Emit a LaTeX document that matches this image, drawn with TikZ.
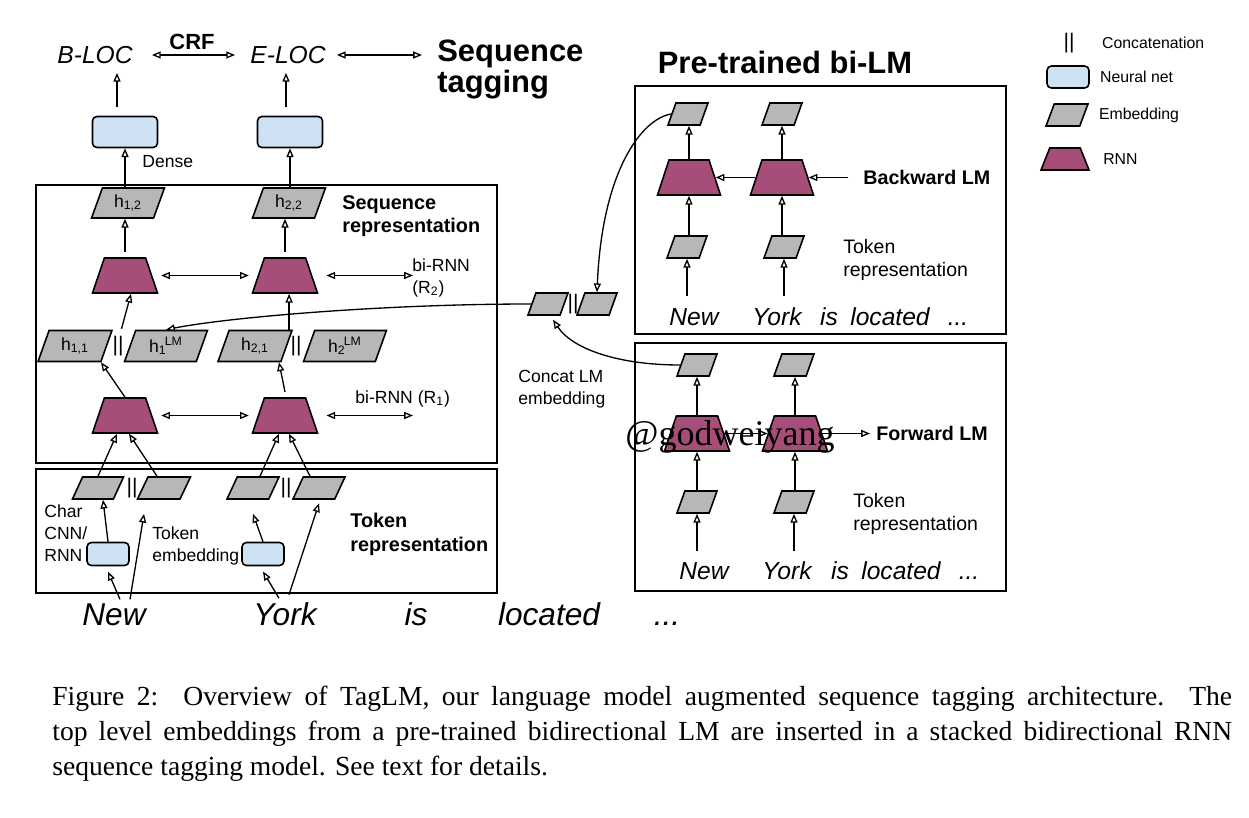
\documentclass[tikz,border=0pt]{standalone}
\usepackage{fontspec}
\setmainfont{Liberation Sans}
\newfontfamily\capfont{Liberation Serif}
\usetikzlibrary{arrows.meta,positioning,shapes.geometric}
\definecolor{rnnpurple}{HTML}{A64D79}
\definecolor{netblue}{HTML}{CFE2F3}
\definecolor{embgray}{HTML}{B7B7B7}
\tikzset{
  panel/.style={draw, line width=0.9pt},
  embbox/.style={
    trapezium,
    trapezium left angle=72,
    trapezium right angle=108,
    trapezium stretches=true,
    draw,
    line width=0.9pt,
    fill=embgray,
    inner sep=1pt,
    font=\fontsize{10}{12}\selectfont
  },
  rnnbox/.style={
    trapezium,
    trapezium left angle=74,
    trapezium right angle=74,
    trapezium stretches=true,
    draw,
    line width=0.9pt,
    fill=rnnpurple,
    minimum width=1.3cm,
    minimum height=0.7cm
  },
  netbox/.style={
    rectangle,
    rounded corners=2.5pt,
    draw,
    line width=0.9pt,
    fill=netblue
  },
  catbar/.style={inner sep=0pt, font=\fontsize{12}{12}\selectfont},
  arrow/.style={-{Triangle[open,length=5pt,width=4pt]}, line width=0.75pt},
  biarrow/.style={{Triangle[open,length=5pt,width=4pt]}-{Triangle[open,length=5pt,width=4pt]}, line width=0.75pt},
  lbl/.style={font=\fontsize{10}{12.5}\selectfont, align=left, inner sep=0pt},
  boldlbl/.style={font=\bfseries\fontsize{11.3}{13.5}\selectfont, align=left, inner sep=0pt},
  lmlbl/.style={font=\fontsize{11.1}{13.1}\selectfont, align=left, inner sep=0pt},
  lgd/.style={font=\fontsize{9}{11}\selectfont, inner sep=0pt},
  tag/.style={font=\itshape\fontsize{14}{14}\selectfont, inner sep=0pt},
  title/.style={font=\bfseries\fontsize{17.6}{17.6}\selectfont, align=left, inner sep=0pt},
  word/.style={font=\itshape\fontsize{18}{18}\selectfont, inner sep=0pt, anchor=base},
  lmword/.style={font=\itshape\fontsize{14}{14}\selectfont, inner sep=0pt, anchor=base}
}

\begin{document}
\begin{tikzpicture}[x=0.02cm, y=-0.02cm]
\useasboundingbox (0,0) rectangle (1249,818);

% frames
\draw[panel] (36,185) rectangle (497,463);
\draw[panel] (36,469) rectangle (497,593);
\draw[panel] (635,86) rectangle (1006,334);
\draw[panel] (635,343) rectangle (1006,591);

% tags and titles
\node[tag] (bloc) at (95,55) {B-LOC};
\node[tag] (eloc) at (288,55) {E-LOC};
\node[font=\bfseries\fontsize{12.5}{12.5}\selectfont, inner sep=0pt] (crf) at (192,42) {CRF};
\node[title, anchor=north west] (seqtag) at (437,40) {Sequence\\tagging};
\node[title] (bilm) at (785,62) {Pre-trained bi-LM};
\draw[biarrow] ([xshift=0.38cm]bloc.east) -- ([xshift=-0.3cm]eloc.west);
\draw[biarrow] ([xshift=0.22cm]eloc.east) -- ([xshift=-0.3cm]eloc.east -| seqtag.west);

% dense layer
\node[netbox, minimum width=1.3cm, minimum height=0.62cm] (dense1) at (125,132) {};
\node[netbox, minimum width=1.3cm, minimum height=0.62cm] (dense2) at (290,132) {};
\node[lbl, anchor=west] (densetxt) at (142,162) {Dense};
\draw[arrow] ([xshift=-0.16cm,yshift=5pt]dense1.north) -- ([xshift=-0.16cm,yshift=-5pt]dense1.north |- bloc.south);
\draw[arrow] ([xshift=-0.08cm,yshift=5pt]dense2.north) -- ([xshift=-0.08cm,yshift=-5pt]dense2.north |- eloc.south);

% sequence representation
\node[boldlbl, anchor=north west] (seqtxt) at (342,195) {Sequence\\representation};
\node[embbox, minimum width=1.46cm, minimum height=0.6cm] (h12) at (128,203) {h\textsubscript{1,2}};
\node[embbox, minimum width=1.46cm, minimum height=0.6cm] (h22) at (289,203) {h\textsubscript{2,2}};
\node[rnnbox] (r2a) at (125,275.5) {};
\node[rnnbox] (r2b) at (285,275.5) {};
\coordinate (r2end) at (413,275.5);
\node[lbl, anchor=north west] (r2txt) at (412,258) {bi-RNN\\(R\textsubscript{2})};
\node[embbox, minimum width=1.48cm, minimum height=0.62cm] (h11) at (75,346) {h\textsubscript{1,1}};
\node[catbar] (cat1) at (118,346) {\textbar\textbar};
\node[embbox, minimum width=1.66cm, minimum height=0.62cm] (h1lm) at (166,346) {h\textsubscript{1}\kern-0.1em\textsuperscript{LM}};
\node[embbox, minimum width=1.48cm, minimum height=0.62cm] (h21) at (255,346) {h\textsubscript{2,1}};
\node[catbar] (cat2) at (296,346) {\textbar\textbar};
\node[embbox, minimum width=1.66cm, minimum height=0.62cm] (h2lm) at (345,346) {h\textsubscript{2}\kern-0.1em\textsuperscript{LM}};
\node[rnnbox] (r1a) at (125,415.5) {};
\node[rnnbox] (r1b) at (285,415.5) {};
\coordinate (r1end) at (413,415.5);
\node[lbl, anchor=north west] (r1txt) at (355,390) {bi-RNN (R\textsubscript{1})};

\draw[arrow] (dense1.south |- h12.north) -- (dense1.south);
\draw[arrow] (dense2.south |- h22.north) -- (dense2.south);
\draw[arrow] ([yshift=3pt]r2a.north) -- (r2a.north |- h12.south);
\draw[arrow] ([yshift=3pt]r2b.north) -- (r2b.north |- h22.south);
\draw[biarrow] ([xshift=5pt]r2a.east) -- ([xshift=-5pt]r2b.west);
\draw[biarrow] ([xshift=8pt]r2b.east) -- (r2end);
\draw[arrow] ([xshift=2pt,yshift=4pt]cat1.north) -- ([xshift=0.12cm]r2a.south);
\draw[arrow] ([xshift=-0.08cm]h21.top right corner) -- ([xshift=-0.08cm]h21.top right corner |- r2b.south);
\draw[arrow] (r1a.north) -- ([xshift=0.52cm]h11.south);
\draw[arrow] ([yshift=3pt]r1b.north) -- ([xshift=0.48cm]h21.south);
\draw[biarrow] ([xshift=5pt]r1a.east) -- ([xshift=-5pt]r1b.west);
\draw[biarrow] ([xshift=8pt]r1b.east) -- (r1end);

% token representation
\node[boldlbl, anchor=north west] (toktxt) at (350,513) {Token\\representation};
\node[embbox, minimum width=1.02cm, minimum height=0.44cm] (char1) at (98,488) {};
\node[catbar] (tcat1) at (132,488) {\textbar\textbar};
\node[embbox, minimum width=1.06cm, minimum height=0.44cm] (tok1) at (164,488) {};
\node[embbox, minimum width=1.04cm, minimum height=0.44cm] (char2) at (253,488) {};
\node[catbar] (tcat2) at (286,488) {\textbar\textbar};
\node[embbox, minimum width=1.04cm, minimum height=0.44cm] (tok2) at (319,488) {};
\node[netbox, minimum width=0.84cm, minimum height=0.46cm] (cnn1) at (108,554) {};
\node[netbox, minimum width=0.84cm, minimum height=0.46cm] (cnn2) at (263,554) {};
\node[lbl, anchor=north west] (chartxt) at (44,504) {Char\\CNN/\\RNN};
\node[lbl, anchor=north west] (embtxt) at (152,526) {Token\\embedding};

\draw[arrow] (char1.north) -- ([xshift=-0.16cm]r1a.south);
\draw[arrow] ([xshift=-0.14cm]tok1.north) -- ([xshift=0.08cm]r1a.south);
\draw[arrow] ([xshift=0.14cm]char2.north) -- ([xshift=-0.12cm]r1b.south);
\draw[arrow] ([xshift=-0.18cm]tok2.north) -- ([xshift=0.08cm]r1b.south);
\draw[arrow] (cnn1.north) -- ([xshift=0.1cm]char1.south);
\draw[arrow] (cnn2.north) -- ([yshift=-8pt]char2.south);

% input words
\node[word] (new) at (114,625) {New};
\node[word] (york) at (285,625) {York};
\node[word] (is) at (416,625) {is};
\node[word] (located) at (549,625) {located};
\node[word] (dots) at (667,625) {...};
\draw[arrow] ([xshift=0.12cm,yshift=2pt]new.north) -- ([yshift=-3pt]cnn1.south);
\draw[arrow] ([xshift=0.32cm,yshift=2pt]new.north) -- ([shift={(-20,14)}]tok1.south);
\draw[arrow] ([xshift=-0.12cm,yshift=2pt]york.north) -- ([yshift=-3pt]cnn2.south);
\draw[arrow] ([xshift=0.08cm,yshift=4pt]york.north) -- ([yshift=-2pt]tok2.south);

% backward LM
\node[embbox, minimum width=0.8cm, minimum height=0.44cm] (bt1) at (688,114) {};
\node[embbox, minimum width=0.8cm, minimum height=0.44cm] (bt2) at (782,114) {};
\node[rnnbox, minimum width=1.26cm] (br1) at (689,177.5) {};
\node[rnnbox, minimum width=1.26cm] (br2) at (782,177.5) {};
\node[embbox, minimum width=0.8cm, minimum height=0.44cm] (bk1) at (687,247) {};
\node[embbox, minimum width=0.8cm, minimum height=0.44cm] (bk2) at (784,247) {};
\coordinate (bwin) at (848,177.5);
\node[font=\bfseries\fontsize{11.2}{13}\selectfont, inner sep=0pt, anchor=west] (bwtxt) at (863,177) {Backward LM};
\node[lmlbl, anchor=north west] (bwtok) at (843,239) {Token\\representation};
\node[lmword] (bnew) at (694,325) {New};
\node[lmword] (byork) at (777,325) {York};
\node[lmword] (bis) at (829,325) {is};
\node[lmword] (bloc2) at (890,325) {located};
\node[lmword] (bdots) at (958,325) {...};
\draw[arrow] (br1.north) -- (br1.north |- bt1.south);
\draw[arrow] (br2.north) -- (br2.north |- bt2.south);
\draw[arrow] (br1.south |- bk1.north) -- (br1.south);
\draw[arrow] (br2.south |- bk2.north) -- (br2.south);
\draw[arrow] ([yshift=-0.74cm]bk1.south) -- (bk1.south);
\draw[arrow] ([yshift=-0.74cm]bk2.south) -- (bk2.south);
\draw[arrow] (br2.west) -- (br1.east);
\draw[arrow] (bwin) -- (br2.east);

% forward LM
\node[embbox, minimum width=0.8cm, minimum height=0.44cm] (ft1) at (697,365) {};
\node[embbox, minimum width=0.8cm, minimum height=0.44cm] (ft2) at (794,365) {};
\node[rnnbox] (fr1) at (697,433.5) {};
\node[rnnbox] (fr2) at (795,433.5) {};
\node[embbox, minimum width=0.8cm, minimum height=0.44cm] (fk1) at (697,502) {};
\node[embbox, minimum width=0.8cm, minimum height=0.44cm] (fk2) at (794,502) {};
\coordinate (fwout) at (870,433.5);
\node[font=\bfseries\fontsize{11.2}{13}\selectfont, inner sep=0pt, anchor=west] (fwtxt) at (876,433) {Forward LM};
\node[lmlbl, anchor=north west] (fwtok) at (853,493) {Token\\representation};
\node[lmword] (fnew) at (704,579) {New};
\node[lmword] (fyork) at (787,579) {York};
\node[lmword] (fis) at (840,579) {is};
\node[lmword] (floc) at (901,579) {located};
\node[lmword] (fdots) at (969,579) {...};
\draw[arrow] (fr1.north) -- (fr1.north |- ft1.south);
\draw[arrow] (fr2.north) -- (fr2.north |- ft2.south);
\draw[arrow] (fr1.south |- fk1.north) -- (fr1.south);
\draw[arrow] (fr2.south |- fk2.north) -- (fr2.south);
\draw[arrow] ([yshift=-0.74cm]fk1.south) -- (fk1.south);
\draw[arrow] ([yshift=-0.74cm]fk2.south) -- (fk2.south);
\draw[arrow] (fr1.east) -- (fr2.west);
\draw[arrow] (fr2.east) -- (fwout);

% concatenated LM embedding
\node[embbox, minimum width=0.8cm, minimum height=0.44cm] (cl) at (548,304) {};
\node[catbar] (lmcat) at (573,304) {\textbar\textbar};
\node[embbox, minimum width=0.8cm, minimum height=0.44cm] (cr) at (597,304) {};
\node[lbl, anchor=north west] (cattxt) at (518,370) {Concat LM\\embedding};
\draw[arrow] (bt1.west) .. controls +(-30,5) and +(5,-120) .. (cr.north);
\draw[arrow] (ft1.west) .. controls +(-60,0) and +(20,30) .. ([shift={(5,4)}]cl.south);
\draw[arrow] (cl.west) .. controls +(-150,0) and +(60,-12) .. (h1lm.north);

% legend
\node[catbar] (legcat) at (1069,43) {\textbar\textbar};
\node[lgd, right=0.54cm of legcat] (legcattxt) {Concatenation};
\node[netbox, minimum width=0.84cm, minimum height=0.44cm] (legnet) at (1068,77) {};
\node[lgd, right=0.2cm of legnet] (legnettxt) {Neural net};
\node[embbox, minimum width=0.84cm, minimum height=0.44cm] (legemb) at (1067,115) {};
\node[lgd, right=0.28cm of legemb] (legembtxt) {Embedding};
\node[rnnbox, minimum width=0.96cm, minimum height=0.44cm] (legrnn) at (1065,159) {};
\node[lgd, right=0.35cm of legrnn] (legrnntxt) {RNN};

% caption
\node[anchor=north west, text width=23.6cm, align=justify, inner sep=0pt,
  font=\capfont\fontsize{15.7}{19.9}\selectfont] (caption) at (52,686)
  {Figure 2:\ \ Overview of TagLM, our language model augmented sequence tagging architecture.\ \ The\linebreak
   top level embeddings from a pre-trained bidirectional LM are inserted in a stacked bidirectional RNN\linebreak
   sequence tagging model. See text for details.};

% watermark
\node[font=\capfont\fontsize{20.5}{20.5}\selectfont, inner sep=0pt] (mark) at (730,437) {@godweiyang};
\end{tikzpicture}
\end{document}
